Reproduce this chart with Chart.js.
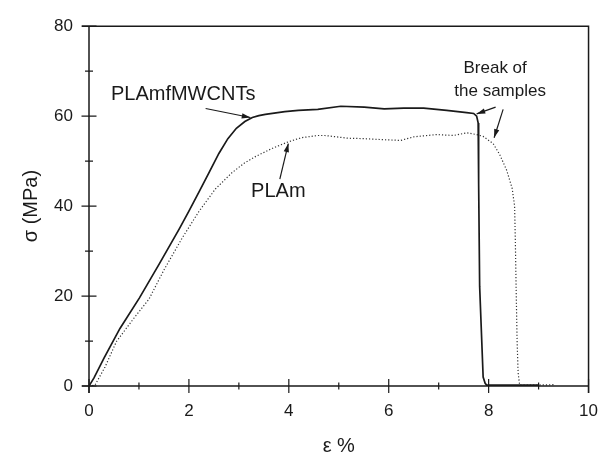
<!DOCTYPE html>
<html lang="en">
<head>
  <meta charset="UTF-8">
  <title>Stress-strain curves</title>
  <script src="https://cdn.jsdelivr.net/npm/chart.js"></script>
  <style>
    body { margin: 0; background: #fff; }
    #wrap { width: 613px; height: 455px; }
  </style>
</head>
<body>

<div id="wrap"><canvas id="myChart" width="613" height="455"></canvas></div>

<script>
  // strain (%) and stress (MPa)
  let cntStrain = [0, 0.1, 0.3, 0.62, 1.01, 1.41, 1.81, 2.0, 2.2, 2.4, 2.6, 2.78, 2.95, 3.12, 3.27, 3.4, 3.53, 3.92, 4.19, 4.58, 5.04, 5.51, 5.91, 6.3, 6.7, 7.16, 7.56, 7.7, 7.76, 7.79, 7.8, 7.82, 7.89, 7.93, 7.96, 8.3, 8.7, 9.0];
  let cntStress = [0, 1.8, 6.2, 12.8, 19.6, 27.2, 35.0, 38.9, 43.1, 47.4, 51.7, 55.0, 57.3, 58.8, 59.7, 60.1, 60.4, 61.0, 61.3, 61.5, 62.2, 62.0, 61.6, 61.8, 61.8, 61.3, 60.8, 60.6, 60.0, 58.5, 45, 22.2, 2.0, 0.6, 0.2, 0.2, 0.2, 0.2];

  let plaStrain = [0, 0.12, 0.32, 0.55, 0.88, 1.2, 1.5, 1.87, 2.2, 2.53, 2.86, 3.1, 3.33, 3.66, 3.99, 4.25, 4.58, 4.72, 5.18, 5.5, 5.84, 6.24, 6.5, 6.96, 7.3, 7.56, 7.76, 7.89, 8.09, 8.22, 8.36, 8.47, 8.52, 8.535, 8.55, 8.57, 8.59, 8.62, 8.9, 9.3];
  let plaStress = [0, 0.2, 4.2, 9.9, 14.8, 19.3, 25.8, 33, 38.8, 43.8, 47.4, 49.5, 51, 52.8, 54.3, 55.2, 55.7, 55.7, 55.1, 55.0, 54.8, 54.6, 55.4, 55.9, 55.7, 56.3, 55.9, 55.5, 53.9, 51.5, 48, 44, 40, 32, 22, 10, 3, 0.2, 0.2, 0.3];

  let xTicks = [0, 2, 4, 6, 8, 10];
  let yTicks = [0, 20, 40, 60, 80];

  const ink = '#1a1a1a';
  const font = "'Liberation Sans', Arial, sans-serif";

  function toPoints(xs, ys) {
    return xs.map((x, i) => ({ x: x, y: ys[i] }));
  }

  // labels and arrows, in data units
  const notes = [
    { text: 'PLAmfMWCNTs', x: 1.885, y: 64.9, size: 20 },
    { text: 'PLAm', x: 3.79, y: 43.2, size: 20 },
    { text: 'Break of', x: 8.13, y: 70.7, size: 17 },
    { text: 'the samples', x: 8.23, y: 65.5, size: 17 }
  ];
  const arrows = [
    [2.335, 61.7, 3.23, 59.7],
    [3.82, 46.0, 3.99, 53.9],
    [8.14, 62.0, 7.76, 60.5],
    [8.29, 61.5, 8.11, 55.2]
  ];

  const framePlugin = {
    id: 'frame',
    afterDraw(chart) {
      const c = chart.ctx;
      const xs = chart.scales.x, ys = chart.scales.y;
      const a = chart.chartArea;
      c.save();
      c.strokeStyle = ink;
      c.lineWidth = 1.5;
      // box
      c.beginPath();
      c.moveTo(a.left - 7, a.top); c.lineTo(a.right, a.top); c.lineTo(a.right, a.bottom + 7);
      c.moveTo(a.left, a.top); c.lineTo(a.left, a.bottom + 7);
      c.moveTo(a.left - 7, a.bottom); c.lineTo(a.right, a.bottom);
      c.stroke();
      // ticks crossing the axes
      c.lineWidth = 1.2;
      c.beginPath();
      for (let v = 0; v <= 10; v++) {
        const px = xs.getPixelForValue(v);
        const h = v % 2 === 0 ? 7 : 3.5;
        c.moveTo(px, a.bottom - h); c.lineTo(px, a.bottom + h);
      }
      for (let v = 0; v <= 80; v += 10) {
        const py = ys.getPixelForValue(v);
        const h = v % 20 === 0 ? 7.5 : 4;
        c.moveTo(a.left - h, py); c.lineTo(a.left + h, py);
      }
      c.stroke();
      // annotations
      c.fillStyle = ink;
      c.textAlign = 'center';
      c.textBaseline = 'middle';
      notes.forEach(n => {
        c.font = n.size + 'px ' + font;
        c.fillText(n.text, xs.getPixelForValue(n.x), ys.getPixelForValue(n.y));
      });
      c.lineWidth = 1.2;
      arrows.forEach(ar => {
        const x0 = xs.getPixelForValue(ar[0]), y0 = ys.getPixelForValue(ar[1]);
        const x1 = xs.getPixelForValue(ar[2]), y1 = ys.getPixelForValue(ar[3]);
        const ang = Math.atan2(y1 - y0, x1 - x0);
        c.beginPath(); c.moveTo(x0, y0); c.lineTo(x1, y1); c.stroke();
        c.beginPath();
        c.moveTo(x1, y1);
        c.lineTo(x1 - 9 * Math.cos(ang - 0.3), y1 - 9 * Math.sin(ang - 0.3));
        c.lineTo(x1 - 9 * Math.cos(ang + 0.3), y1 - 9 * Math.sin(ang + 0.3));
        c.closePath(); c.fill();
      });
      c.restore();
    }
  };

  const ctx = document.getElementById('myChart').getContext('2d');

  const myChart = new Chart(ctx, {
    type: 'scatter',
    data: {
      datasets: [
        {
          label: 'PLAmfMWCNTs',
          data: toPoints(cntStrain, cntStress),
          showLine: true,
          borderColor: ink,
          borderWidth: 1.7,
          pointRadius: 0,
          fill: false
        },
        {
          label: 'PLAm',
          data: toPoints(plaStrain, plaStress),
          showLine: true,
          borderColor: '#333',
          borderWidth: 1.2,
          borderDash: [1.2, 2],
          pointRadius: 0,
          fill: false
        }
      ]
    },
    options: {
      responsive: false,
      animation: false,
      layout: { padding: { left: 0, right: 20, top: 16.5, bottom: 0 } },
      plugins: { legend: { display: false }, tooltip: { enabled: false } },
      scales: {
        x: {
          type: 'linear', min: 0, max: 10,
          afterBuildTicks: s => { s.ticks = xTicks.map(v => ({ value: v })); },
          afterFit: s => { s.height = 69; },
          grid: { display: false, drawTicks: false },
          border: { display: false },
          ticks: { padding: 15, color: ink, font: { family: font, size: 17 } },
          title: { display: true, text: 'ε %', color: ink, font: { family: font, size: 20 }, padding: { top: 0, bottom: -3 } }
        },
        y: {
          type: 'linear', min: 0, max: 80,
          afterBuildTicks: s => { s.ticks = yTicks.map(v => ({ value: v })); },
          afterFit: s => { s.width = 89; },
          grid: { display: false, drawTicks: false },
          border: { display: false },
          ticks: { padding: 16, color: ink, font: { family: font, size: 17 } },
          title: { display: true, text: 'σ (MPa)', color: ink, font: { family: font, size: 20 }, padding: { top: 19, bottom: 0 } }
        }
      }
    },
    plugins: [framePlugin]
  });
</script>

</body>
</html>
